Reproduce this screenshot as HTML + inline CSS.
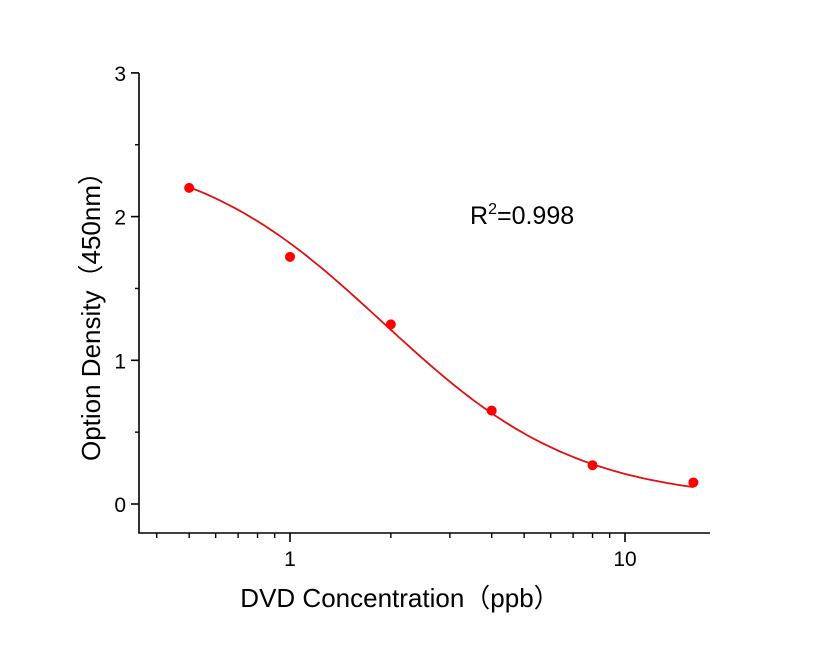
<!DOCTYPE html>
<html><head><meta charset="utf-8"><style>
body{margin:0;background:#fff}
svg text{font-family:"Liberation Sans",sans-serif;fill:#000}
</style></head><body>
<svg id="chart" width="816" height="640" viewBox="0 0 816 640" xmlns="http://www.w3.org/2000/svg">
<g id="axes"></g><g id="series"></g>
<text x="470" y="224" font-size="25">R<tspan dy="-10" font-size="16">2</tspan><tspan dy="10">=0.998</tspan></text>
<text x="400" y="607" font-size="26" text-anchor="middle">DVD  Concentration（ppb）</text>
<text transform="translate(100,310) rotate(-90)" font-size="26" text-anchor="middle">Option Density（450nm）</text>
</svg>
<script>
const concentrations=[0.5,1,2,4,8,16];
const densities=[2.20,1.72,1.25,0.65,0.27,0.15];
const fitParams=[2.5,1.5,1.9,0.02]; // A, B, C, D (4PL)
const yTicks=[0,1,2,3];
const xTickLabels=[1,10];
const ns="http://www.w3.org/2000/svg";
const X0=139,X1=710,Y0=533,YT=73;
function xs(v){return 290+Math.log10(v)*335;}
function ys(v){return 504-v*143.7;}
function mk(t,a,p){const e=document.createElementNS(ns,t);for(const k in a)e.setAttribute(k,a[k]);p.appendChild(e);return e;}
const ax=document.getElementById('axes'),se=document.getElementById('series');
let e=mk('path',{d:`M${X0} ${YT}V${Y0}H${X1}`,fill:'none',stroke:'#000','stroke-width':1.6},ax);

yTicks.forEach(v=>{const y=ys(v);
 let t=mk('line',{x1:X0-8,x2:X0,y1:y,y2:y,stroke:'#000','stroke-width':1.6},ax);
 
 let l=mk('text',{x:X0-13,y:y+8,'font-size':21,'text-anchor':'end'},ax);l.textContent=v;
 
 if(v<3){let m=mk('line',{x1:X0-4,x2:X0,y1:ys(v+0.5),y2:ys(v+0.5),stroke:'#000','stroke-width':1.4},ax);
 }
});
[0.4,0.5,0.6,0.7,0.8,0.9,2,3,4,5,6,7,8,9].forEach(v=>{const x=xs(v);
 let m=mk('line',{x1:x,x2:x,y1:Y0,y2:Y0+5,stroke:'#000','stroke-width':1.4},ax);
 });
xTickLabels.forEach(v=>{const x=xs(v);
 let t=mk('line',{x1:x,x2:x,y1:Y0,y2:Y0+9,stroke:'#000','stroke-width':1.6},ax);
 
 let l=mk('text',{x:x,y:Y0+33,'font-size':21,'text-anchor':'middle'},ax);l.textContent=v;
 });
const [A,B,C,D]=fitParams;
let d='';const lo=Math.log10(concentrations[0]),hi=Math.log10(concentrations[concentrations.length-1]);
for(let i=0;i<=120;i++){const c=Math.pow(10,lo+(hi-lo)*i/120);const y=D+(A-D)/(1+Math.pow(c/C,B));
 d+=(i?'L':'M')+xs(c).toFixed(1)+' '+ys(y).toFixed(1);}
let cv=mk('path',{d:d,fill:'none',stroke:'#e01010','stroke-width':1.8},se);

concentrations.forEach((c,i)=>{let p=mk('circle',{cx:xs(c),cy:ys(densities[i]),r:5,fill:'#f00'},se);
 });
</script>
</body></html>
